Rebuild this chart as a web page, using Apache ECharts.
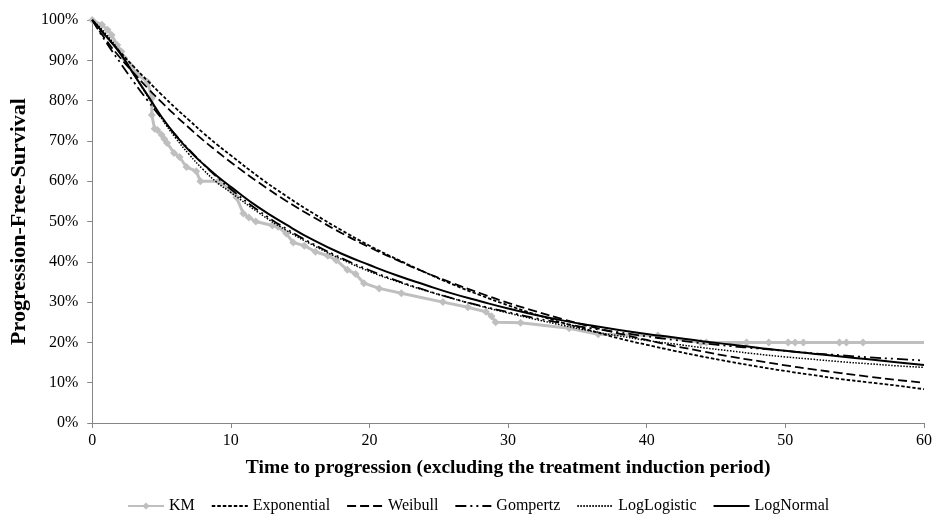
<!DOCTYPE html>
<html><head><meta charset="utf-8">
<script src="https://cdn.jsdelivr.net/npm/echarts@6/dist/echarts.min.js"></script>
<style>html,body{margin:0;padding:0;background:#fff}#c{width:935px;height:519px}</style>
</head><body><div id="c"></div>
<script>
// Kaplan-Meier observed curve
const kmTime = [0,0.7,1.1,1.4,1.8,2.1,2.3,2.8,3.3,4.0,4.3,4.3,4.5,4.7,5.0,5.2,5.4,5.9,6.3,6.8,7.5,7.8,9.1,10.1,10.4,10.9,11.3,11.8,13.0,13.4,14.0,14.5,15.3,16.1,17.0,17.6,18.4,19.0,19.6,20.7,22.3,25.3,27.1,28.4,28.8,29.1,30.9,34.4,36.5,40.8,43.9,44.3,47.2,48.8,50.2,50.7,51.3,53.9,54.4,55.6,60];
const kmSurv = [100,98.8,97.6,96.3,93.8,92.2,90.6,88.5,86.4,84.6,80.6,76.4,73,72.7,71.5,70.5,69.5,67,66,63.5,62.5,60,60,57.5,56,52,51,50,49,48.7,47,44.8,44,42.5,41.5,40.4,38,37,34.7,33.4,32.2,30,28.7,27.6,26.5,25,24.9,23.5,22,21.7,20,20,20,20,20,20,20,20,20,20,20];
// Parametric fits (read at these times)
const fitTime = [0,1,2,3,4,5,6,7,8,9,10,12,14,16,18,20,22,24,26,28,30,32,34,36,38,40,42,44,46,48,50,52,54,56,58,60];
const exponential = [100,96.0,92.1,88.4,84.9,81.5,78.2,75.1,72.0,69.1,66.4,61.1,56.3,51.9,47.8,44.0,40.6,37.4,34.4,31.7,29.2,26.9,24.8,22.9,21.0,19.4,17.9,16.5,15.2,14.0,12.9,11.9,10.9,10.1,9.3,8.4];
const weibull = [100,95.0,90.7,86.8,83.1,79.6,76.3,73.2,70.2,67.4,64.7,59.7,55.1,51.0,47.1,43.6,40.4,37.4,34.7,32.2,29.8,27.7,25.7,23.9,22.2,20.6,19.1,17.8,16.5,15.4,14.3,13.3,12.4,11.5,10.7,10.0];
const gompertz = [100,94.5,89.5,84.6,80.0,75.6,71.5,67.8,64.3,61.0,58.0,52.7,48.2,44.3,40.9,37.9,35.3,33.0,30.9,29.1,27.5,26.0,24.7,23.5,22.5,21.5,20.6,19.8,19.1,18.5,17.9,17.3,16.8,16.3,15.9,15.5];
const logLogistic = [100,96.5,92.0,86.5,81.0,75.6,70.8,66.6,62.9,59.7,57.2,52.2,47.8,44.0,40.6,37.6,35.1,32.9,30.9,29.0,27.3,25.7,24.2,22.8,21.6,20.5,19.6,18.7,17.9,17.1,16.4,15.8,15.2,14.7,14.2,13.8];
const logNormal = [100,96.0,91.8,86.5,81.3,76.0,71.5,67.6,64.3,61.3,58.6,53.5,49.2,45.3,42.0,39.2,36.6,34.3,32.1,30.2,28.4,26.8,25.4,24.2,23.1,22.1,21.2,20.3,19.5,18.7,17.9,17.2,16.5,15.8,15.1,14.4];
const seriesNames = ['KM','Exponential','Weibull','Gompertz','LogLogistic','LogNormal'];
const xTicks = [0,10,20,30,40,50,60];
const yTickStep = 10;

const FONT = 'Liberation Serif';
const pair = (ts, vs) => ts.map((t, i) => [t, vs[i]]);
const kmData = pair(kmTime, kmSurv).map((p, i, arr) => i === arr.length - 1 ? {value: p, symbol: 'none'} : p);

function fit(name, vals, type, width) {
  return {
    name, type: 'line', data: pair(fitTime, vals), smooth: true, symbol: 'none', z: 3,
    lineStyle: {color: '#000', width: width, type: type},
    itemStyle: {color: '#000'}
  };
}

const chart = echarts.init(document.getElementById('c'), null, {renderer: 'canvas'});
chart.setOption({
  animation: false,
  backgroundColor: '#fff',
  grid: {left: 84, right: 5, top: 20, bottom: 96, containLabel: false},
  xAxis: {
    type: 'value', min: xTicks[0], max: xTicks[xTicks.length - 1], interval: 10,
    name: 'Time to progression (excluding the treatment induction period)',
    nameLocation: 'middle', nameGap: 35,
    nameTextStyle: {fontFamily: FONT, fontSize: 19.5, fontWeight: 'bold', color: '#000'},
    axisLine: {lineStyle: {color: '#868686', width: 1}},
    axisTick: {show: true, inside: false, length: 5, lineStyle: {color: '#868686'}},
    axisLabel: {fontFamily: FONT, fontSize: 16, color: '#000', margin: 10},
    splitLine: {show: false}
  },
  yAxis: {
    type: 'value', min: 0, max: 100, interval: yTickStep,
    name: 'Progression-Free-Survival',
    nameLocation: 'middle', nameGap: 57, nameRotate: 90,
    nameTextStyle: {fontFamily: FONT, fontSize: 22, fontWeight: 'bold', color: '#000'},
    axisLine: {show: true, lineStyle: {color: '#868686', width: 1}},
    axisTick: {show: true, inside: false, length: 5, lineStyle: {color: '#868686'}},
    axisLabel: {fontFamily: FONT, fontSize: 16, color: '#000', margin: 14, formatter: '{value}%'},
    splitLine: {show: false}
  },
  legend: {
    bottom: 0, left: 122, itemWidth: 36, itemHeight: 9, itemGap: 16,
    textStyle: {fontFamily: FONT, fontSize: 16, color: '#000'},
    data: seriesNames.map((n, i) => i === 0 ? {name: n} : {name: n, itemStyle: {opacity: 0}})
  },
  series: [
    {
      name: 'KM', type: 'line', data: kmData, z: 1,
      symbol: 'diamond', symbolSize: 8,
      lineStyle: {color: '#bfbfbf', width: 3},
      itemStyle: {color: '#bfbfbf'}
    },
    fit('Exponential', exponential, [3.5, 2], 1.8),
    fit('Weibull', weibull, [9, 4], 1.8),
    fit('Gompertz', gompertz, [11, 4, 2, 4, 2, 4], 1.8),
    fit('LogLogistic', logLogistic, [1.5, 1.5], 1.5),
    fit('LogNormal', logNormal, 'solid', 2)
  ]
});
</script>
</body></html>
